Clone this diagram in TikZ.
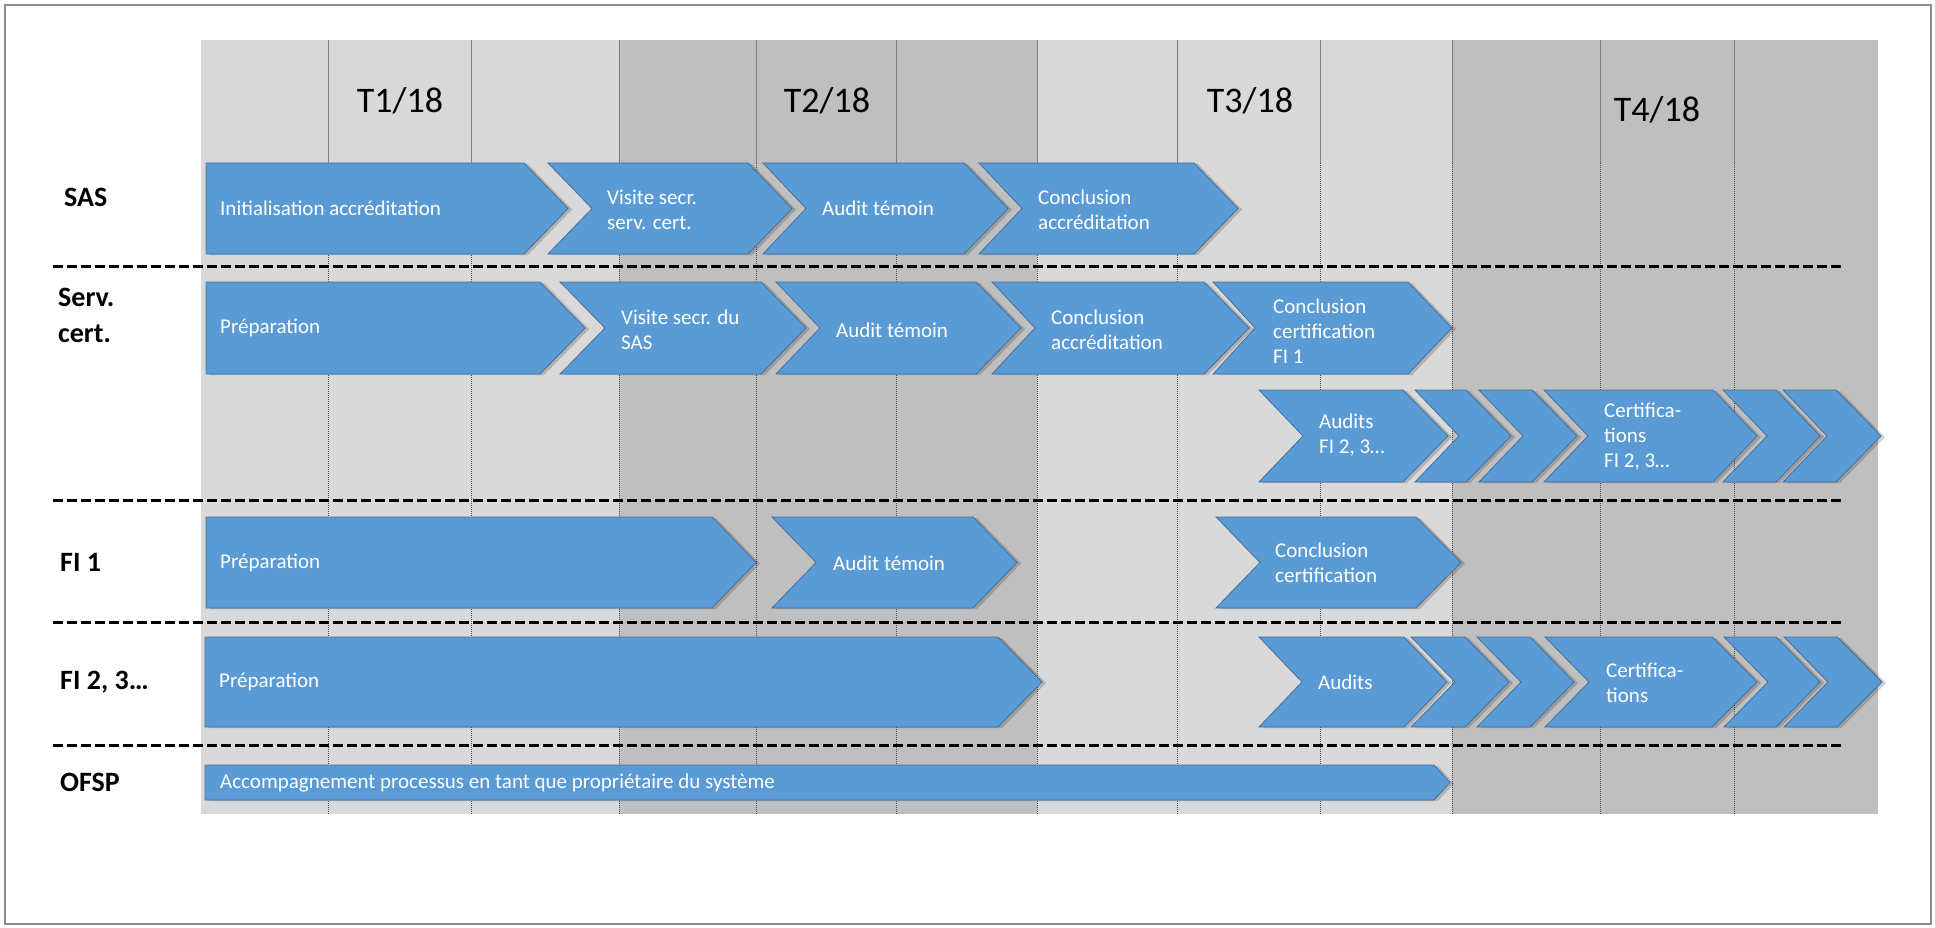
\documentclass[tikz,border=0pt]{standalone}
\usepackage{fontspec}
\setmainfont{Carlito}
\definecolor{chevblue}{HTML}{5B9BD5}
\definecolor{chevedge}{HTML}{41719C}
\definecolor{bglight}{HTML}{D9D9D9}
\definecolor{bgdark}{HTML}{BFBFBF}
\definecolor{gridc}{HTML}{7F7F7F}
\definecolor{framec}{HTML}{8C8C8C}
\newcommand{\chevp}[6]{(#1,#2) -- (#4,#2) -- ({#4+#5},{(#2+#3)/2}) -- (#4,#3) -- (#1,#3) -- ({#1+#6},{(#2+#3)/2}) -- cycle}
\newcommand{\chev}[6]{%
  \fill[shadowfill,shift={(4,1)}] \chevp{#1}{#2}{#3}{#4}{#5}{#6};
  \filldraw[chevfill] \chevp{#1}{#2}{#3}{#4}{#5}{#6};}
\begin{document}
\begin{tikzpicture}[x=1pt,y=-1pt,
  chevfill/.style={fill=chevblue,draw=chevedge,line width=0.8pt,line join=miter},
  shadowfill/.style={fill=black,fill opacity=0.18},
  chevtext/.style={font=\fontsize{21}{25}\selectfont,text=white,anchor=west,inner sep=0pt,align=left},
  rowlabel/.style={font=\fontsize{28}{36}\selectfont\bfseries,anchor=west,inner sep=0pt,align=left},
  qlabel/.style={font=\fontsize{36}{40}\selectfont,inner sep=0pt},
  sep/.style={line width=2.6pt,dash pattern=on 10pt off 4pt},
  gridsolid/.style={draw=gridc,line width=0.9pt},
  griddot/.style={draw=gridc!60!black,line width=0.9pt,dash pattern=on 1pt off 1pt}]
\useasboundingbox (0,0) rectangle (1935,928);
\fill[white] (0,0) rectangle (1935,928);
\draw[framec,line width=2pt] (5,5) rectangle (1931,924);
% background bands
\fill[bglight] (201,40) rectangle (619,814);
\fill[bgdark] (619,40) rectangle (1037,814);
\fill[bglight] (1037,40) rectangle (1452,814);
\fill[bgdark] (1452,40) rectangle (1878,814);
% grid lines
\foreach \x in {328,471,619,756,896,1037,1177,1320,1452,1600,1734}{
  \draw[gridsolid] (\x,40) -- (\x,163);
  \draw[griddot] (\x,163) -- (\x,814);
}
% quarter labels
\node[qlabel] (t1) at (400,101) {T1/18};
\node[qlabel] (t2) at (827,101) {T2/18};
\node[qlabel] (t3) at (1250,101) {T3/18};
\node[qlabel] (t4) at (1657,110) {T4/18};
% separators
\foreach \y in {266.5,500.5,622.5,745.5}{
  \draw[sep] (53,\y) -- (1842,\y);
}
% row labels
\node[rowlabel] (lsas) at (64,197) {SAS};
\node[rowlabel] (lserv) at (58,315) {Serv.\\cert.};
\node[rowlabel] (lfi1) at (60,562) {FI 1};
\node[rowlabel] (lfi2) at (60,682) {FI 2, 3…};
\node[rowlabel] (lofsp) at (60,782) {OFSP};
% SAS row
\chev{206}{163}{254}{524}{44}{0}
\chev{548}{163}{254}{748}{44}{44}
\chev{763}{163}{254}{964}{44}{43}
\chev{979}{163}{254}{1194}{44}{43}
\node[chevtext] (s1) at (220,208) {Initialisation accréditation};
\node[chevtext] (s2) at (607,209.5) {Visite secr.\\serv. cert.};
\node[chevtext] (s3) at (822,208) {Audit témoin};
\node[chevtext] (s4) at (1038,209.5) {Conclusion\\accréditation};
% Serv. cert. row
\chev{206}{282}{374}{540}{45}{0}
\chev{560}{282}{374}{761}{45}{45}
\chev{776}{282}{374}{976}{45}{44}
\chev{992}{282}{374}{1204}{45}{43}
\chev{1213}{282}{374}{1408}{44}{42}
\node[chevtext] (c1) at (220,328) {Préparation};
\node[chevtext] (c2) at (621,329.5) {Visite secr. du\\SAS};
\node[chevtext] (c3) at (836,330) {Audit témoin};
\node[chevtext] (c4) at (1051,329.5) {Conclusion\\accréditation};
\node[chevtext] (c5) at (1273,331) {Conclusion\\certification\\FI 1};
% Audits row
\chev{1259}{390}{482}{1403}{45}{44}
\chev{1415}{390}{482}{1466}{45}{44}
\chev{1479}{390}{482}{1532}{45}{44}
\chev{1544}{390}{482}{1713}{44}{44}
\chev{1723}{390}{482}{1776}{44}{44}
\chev{1783}{390}{482}{1836}{45}{44}
\node[chevtext] (a1) at (1319,435.5) {Audits\\FI 2, 3…};
\node[chevtext] (a2) at (1604,437) {Certifica-\\tions\\FI 2, 3…};
% FI 1 row
\chev{206}{517}{608}{712}{44}{0}
\chev{772}{517}{608}{973}{44}{44}
\chev{1216}{517}{608}{1416}{45}{44}
\node[chevtext] (f1) at (220,563) {Préparation};
\node[chevtext] (f2) at (833,563) {Audit témoin};
\node[chevtext] (f3) at (1275,562.5) {Conclusion\\certification};
% FI 2,3 row
\chev{205}{637}{727}{998}{44}{0}
\chev{1259}{637}{727}{1404}{43}{43}
\chev{1411}{637}{727}{1465}{44}{44}
\chev{1477}{637}{727}{1530}{44}{44}
\chev{1545}{637}{727}{1712}{45}{44}
\chev{1724}{637}{727}{1776}{44}{44}
\chev{1784}{637}{727}{1837}{45}{44}
\node[chevtext] (g1) at (219,682) {Préparation};
\node[chevtext] (g2) at (1318,682) {Audits};
\node[chevtext] (g3) at (1606,683) {Certifica-\\tions};
% OFSP row
\chev{205}{765}{800}{1434}{16}{0}
\node[chevtext] (o1) at (220,783) {Accompagnement processus en tant que propriétaire du système};
\end{tikzpicture}
\end{document}
